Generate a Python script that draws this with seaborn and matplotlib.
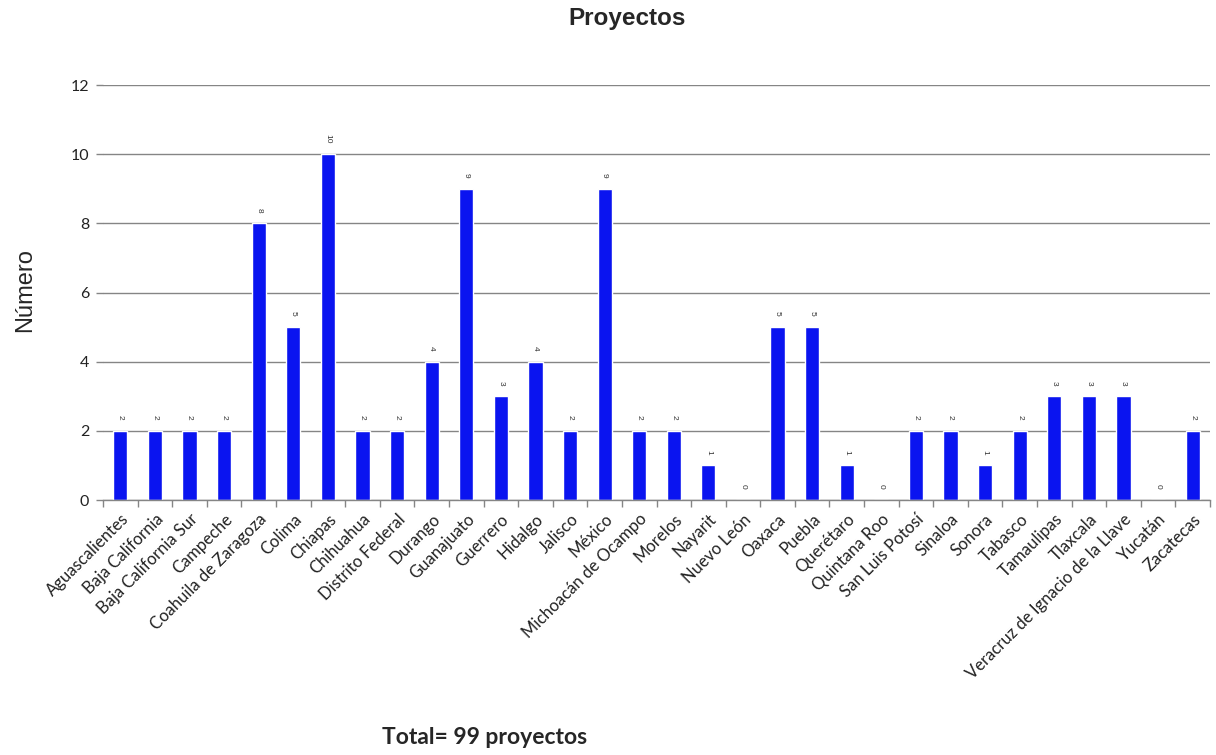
import matplotlib
matplotlib.use("Agg")
import matplotlib.pyplot as plt
import seaborn as sns
import pandas as pd
import numpy as np
from matplotlib.ticker import FixedLocator

estados = ["Aguascalientes", "Baja California", "Baja California Sur", "Campeche",
           "Coahuila de Zaragoza", "Colima", "Chiapas", "Chihuahua", "Distrito Federal",
           "Durango", "Guanajuato", "Guerrero", "Hidalgo", "Jalisco", "México",
           "Michoacán de Ocampo", "Morelos", "Nayarit", "Nuevo León", "Oaxaca", "Puebla",
           "Querétaro", "Quintana Roo", "San Luis Potosí", "Sinaloa", "Sonora", "Tabasco",
           "Tamaulipas", "Tlaxcala", "Veracruz de Ignacio de la Llave", "Yucatán", "Zacatecas"]
proyectos = [2, 2, 2, 2, 8, 5, 10, 2, 2, 4, 9, 3, 4, 2, 9, 2, 2, 1, 0, 5, 5, 1, 0, 2, 2, 1, 2, 3, 3, 3, 0, 2]
yticks = [0, 2, 4, 6, 8, 10, 12]

df = pd.DataFrame({"estado": estados, "n": proyectos})

sns.set_theme(style="white")
plt.rcParams['font.family'] = ['Lato', 'DejaVu Sans']

fig = plt.figure(figsize=(12.16, 7.55), dpi=100)
ax = fig.add_axes([103/1216, 1 - 500/755, (1210 - 103)/1216, (500 - 85)/755])

sns.barplot(data=df, x="estado", y="n", color="#0A14F0", saturation=1, width=0.41, ax=ax)

ax.set_ylim(0, 12)
ax.set_xlim(-0.5, len(estados) - 0.5)
ax.set_yticks(yticks)
ax.set_yticklabels([str(v) for v in yticks], fontsize=11.5, color="#222222")
ax.yaxis.grid(True, color="#858585", linewidth=1)
ax.set_axisbelow(True)
ax.tick_params(axis="y", length=5, color="#858585", width=1, pad=5, left=True)

ax.set_xticks(range(len(estados)))
ax.set_xticklabels(estados, rotation=45, ha="right", rotation_mode="anchor", fontsize=12, color="#222222")
ax.tick_params(axis="x", which="major", length=0, pad=8)
ax.xaxis.set_minor_locator(FixedLocator(np.arange(-0.5, len(estados), 1.0)))
ax.tick_params(axis="x", which="minor", length=5, color="#858585", width=1, bottom=True)

for s in ["top", "right", "left"]:
    ax.spines[s].set_visible(False)
ax.spines["bottom"].set_color("#858585")
ax.spines["bottom"].set_linewidth(1)

for c in ax.containers:
    ax.bar_label(c, labels=[str(v) for v in proyectos], rotation=270, fontsize=6,
                 padding=8, color="#333333", family="Liberation Sans")

ax.set_xlabel("")
ax.set_ylabel("")

fig.text(627/1216, 1 - 18/755, "Proyectos", ha="center", va="center",
         fontsize=17.5, fontweight="bold", family=["Liberation Sans", "DejaVu Sans"])
fig.text(25/1216, 1 - 290/755, "Número", ha="center", va="center", rotation=90,
         fontsize=17, family=["Liberation Sans", "DejaVu Sans"])
fig.text(485/1216, 1 - 737/755, "Total= 99 proyectos", ha="center", va="center",
         fontsize=16.5, fontweight="bold")

fig.savefig("out.png", dpi=100, facecolor="white")
